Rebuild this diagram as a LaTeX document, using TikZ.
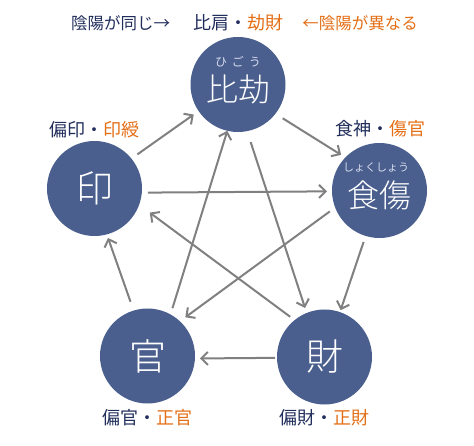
\documentclass[tikz,border=0pt]{standalone}
\usepackage{fontspec}
\newfontfamily\jpfont{Noto Sans CJK JP}
\newfontfamily\jplight{Noto Sans CJK JP Light}
\usetikzlibrary{arrows.meta}
\definecolor{elemblue}{RGB}{74,95,142}
\definecolor{labelnavy}{RGB}{33,46,92}
\definecolor{labelorange}{RGB}{228,110,22}
\definecolor{flowgray}{RGB}{128,128,128}
\definecolor{rubytint}{RGB}{214,220,238}
\newcommand{\yin}[1]{\textcolor{labelnavy}{#1}}
\newcommand{\yang}[1]{\textcolor{labelorange}{#1}}
\tikzset{
	elem/.style={circle,fill=elemblue,minimum size=95pt,inner sep=0pt,outer sep=0pt,text=white},
	onechar/.style={elem,font=\jplight\fontsize{37}{37}\selectfont},
	twochar/.style={elem,font=\jplight\fontsize{32}{32}\selectfont,text height=37.4pt,text depth=4pt},
	ruby/.style={inner sep=0pt,text=rubytint,font=\jpfont\fontsize{12}{12}\selectfont},
	tag/.style={inner sep=0pt,font=\jpfont\fontsize{18}{18}\selectfont},
	note/.style={tag,font=\jpfont\fontsize{16.5}{16.5}\selectfont},
	flow/.style={draw=flowgray,line width=2pt,-{Straight Barb[length=6.5pt,width=13pt]}}
}
\begin{document}
\begin{tikzpicture}[x=1pt,y=-1pt]
	\useasboundingbox (0,0) rectangle (474,446);
	% elements
	\node[twochar] (hi) at (238,84.5) {比劫};
	\node[onechar] (in) at (94.5,188.5) {印};
	\node[twochar] (sho) at (379.5,190.5) {食傷};
	\node[onechar] (kan) at (147.5,356) {官};
	\node[onechar] (zai) at (324.5,357) {財};
	\node[ruby] (hiruby) at (238,62) {ひ\hspace{5pt}ご\hspace{5pt}う};
	\node[ruby,font=\jpfont\fontsize{11}{11}\selectfont] (shoruby) at (376,167) {しょくしょう};
	% labels
	\node[note,anchor=west] (same) at (71,23) {\yin{陰陽が同じ→}};
	\node[tag] (hitag) at (238,23) {\yin{比肩・}\yang{劫財}};
	\node[note,anchor=east] (diff) at (418,23) {\yang{←陰陽が異なる}};
	\node[tag] (intag) at (94,130) {\yin{偏印・}\yang{印綬}};
	\node[tag] (shotag) at (380,129) {\yin{食神・}\yang{傷官}};
	\node[tag] (kantag) at (147,418) {\yin{偏官・}\yang{正官}};
	\node[tag] (zaitag) at (324,418) {\yin{偏財・}\yang{正財}};
	% generating cycle
	\draw[flow,shorten <=7.3pt,shorten >=6pt] (in.39.8) -- (hi.214.8);
	\draw[flow,shorten <=8.6pt,shorten >=5pt] (hi.322.5) -- (sho.136.3);
	\draw[flow,shorten <=6.3pt,shorten >=2pt] (sho.253.6) -- (zai.71.8);
	\draw[flow,shorten <=2pt,shorten >=5pt] (zai.181.2) -- (kan.357.6);
	\draw[flow,shorten <=9.3pt,shorten >=3.8pt] (kan.107.8) -- (in.285);
	% controlling star
	\draw[flow,shorten <=6.1pt,shorten >=5pt] (in.355.8) -- (sho.181.8);
	\draw[flow,shorten <=6.5pt] (kan.61.7) -- (hi.257.5);
	\draw[flow,shorten <=11.5pt,shorten >=5.2pt] (hi.281.5) -- (zai.112.1);
	\draw[flow,shorten <=5.5pt,shorten >=13.2pt] (zai.129.4) -- (in.340.9);
	\draw[flow,shorten <=6.6pt,shorten >=6.7pt] (sho.201.8) -- (kan.47.6);
\end{tikzpicture}
\end{document}
